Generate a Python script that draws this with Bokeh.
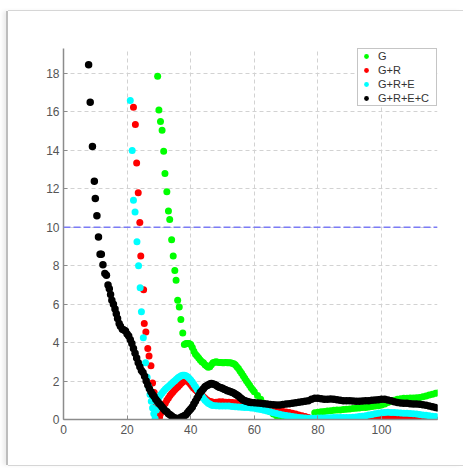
from bokeh.plotting import figure
from bokeh.models import Range1d, FixedTicker, Span, Legend, LegendItem
from bokeh.embed import file_html
from bokeh.resources import INLINE

# ---------------- data ----------------
series_names = ["G", "G+R", "G+R+E", "G+R+E+C"]
series_colors = ["#00ff00", "#ff0000", "#00ffff", "#000000"]
series_sizes = [7, 7, 7, 7.5]
x_ticks = [0, 20, 40, 60, 80, 100, 120]
y_ticks = [0, 2, 4, 6, 8, 10, 12, 14, 16, 18]
threshold = 10

# G
g_head_x = [29.6, 30.0, 30.5, 31.0, 31.5, 31.9, 32.5, 33.0, 33.4, 34.0, 34.5, 35.0, 35.4, 35.9, 36.4, 36.9, 37.5, 38.0]
g_head_y = [17.85, 16.1, 15.5, 15.05, 13.95, 12.8, 11.85, 10.85, 10.4, 9.35, 8.5, 7.75, 7.25, 6.2, 5.85, 5.2, 4.5, 3.9]
g_mid_y = [3.95, 3.95, 3.95, 3.9, 3.75, 3.55, 3.4, 3.3, 3.2, 3.1,
           3.0, 2.95, 2.85, 2.78, 2.72, 2.75, 2.85, 2.95, 2.98, 3.0,
           2.98, 2.97, 2.97, 2.95, 2.95, 2.96, 2.95, 2.95, 2.95, 2.93,
           2.9, 2.85, 2.75, 2.65, 2.52, 2.4, 2.27, 2.15, 2.02, 1.9,
           1.78, 1.65, 1.55]          # x = 38.5 .. 59.5 step 0.5
g_tail1_y = [1.45, 1.25, 1.05, 0.85, 0.6, 0.4, 0.28, 0.2, 0.14, 0.1,
             0.07, 0.05, 0.03, 0.01, 0.0, -0.03, -0.05, -0.06, -0.06]   # x = 60 .. 78
g_tail2_y = [0.35, 0.38, 0.4, 0.42, 0.44, 0.46, 0.48, 0.5, 0.5, 0.52,
             0.53, 0.55, 0.57, 0.58, 0.6, 0.62, 0.63, 0.65, 0.67, 0.7,
             0.72, 0.75, 0.8, 0.88, 0.95, 1.0, 1.05, 1.08, 1.1, 1.1,
             1.12, 1.12, 1.13, 1.15, 1.18, 1.22, 1.27, 1.32, 1.36, 1.4]  # x = 79 .. 118

# G+R
r_head_x = [22.0, 22.6, 23.0, 23.5, 24.0, 24.3, 25.2, 25.4, 25.9, 26.5, 26.9, 27.5, 28.0, 28.5, 29.1, 29.7, 30.2]
r_head_y = [16.25, 15.35, 13.35, 11.8, 10.25, 8.5, 6.75, 5.0, 4.55, 3.7, 3.3, 2.8, 1.9, 1.4, 0.75, 0.2, 0.12]
r_mid_y = [0.3, 0.5, 0.7, 0.85, 1.0, 1.12, 1.25, 1.35, 1.45, 1.55,
           1.62, 1.7, 1.8, 1.88, 1.95, 2.02, 2.05, 2.0, 1.92, 1.82,
           1.72, 1.63, 1.55, 1.47, 1.4, 1.33, 1.25, 1.18, 1.1, 1.03,
           0.98, 0.94, 0.92, 0.9]     # x = 30.5 .. 47.0 step 0.5
r_tail_y = [0.9, 0.92, 0.92, 0.9, 0.9, 0.88, 0.87, 0.86, 0.85, 0.83,
            0.8, 0.78, 0.75, 0.72, 0.68, 0.64, 0.6, 0.56, 0.52, 0.48,
            0.45, 0.42, 0.39, 0.36, 0.32, 0.28, 0.24, 0.2, 0.15, 0.1,
            0.05, 0.0, -0.02, -0.03, -0.03, -0.03, -0.03, -0.03, -0.02, -0.02,
            -0.02, -0.02, -0.02, -0.01, 0.0, 0.0, 0.01, 0.02, 0.04, 0.06,
            0.08, 0.1, 0.12, 0.13, 0.12, 0.1, 0.08, 0.07, 0.06, 0.05,
            0.05, 0.05, 0.04, 0.04, 0.03, 0.03, 0.02, 0.01, 0.0, -0.02, -0.03]  # x = 48 .. 118

# G+R+E
c_head_x = [21.0, 21.6, 22.0, 22.5, 23.1, 23.6, 24.1, 24.5, 25.1, 25.8, 26.3, 26.8, 27.2, 27.6, 28.0, 28.4, 28.8, 29.2]
c_head_y = [16.6, 14.0, 11.4, 10.8, 9.25, 8.0, 6.85, 5.6, 4.25, 2.95, 2.2, 1.7, 1.3, 0.95, 0.6, 0.3, 0.05, 0.5]
c_mid_y = [0.9, 1.15, 1.28, 1.38, 1.48, 1.57, 1.65, 1.72, 1.8, 1.87,
           1.95, 2.02, 2.1, 2.17, 2.23, 2.28, 2.3, 2.3, 2.27, 2.22,
           2.15, 2.05, 1.95, 1.82, 1.7, 1.57, 1.45, 1.33, 1.22, 1.1,
           1.0, 0.92, 0.85, 0.8, 0.76, 0.73]   # x = 29.5 .. 47.0 step 0.5
c_tail_y = [0.72, 0.7, 0.7, 0.7, 0.7, 0.68, 0.66, 0.65, 0.64, 0.63,
            0.62, 0.6, 0.58, 0.55, 0.52, 0.48, 0.44, 0.4, 0.35, 0.31,
            0.27, 0.24, 0.21, 0.18, 0.15, 0.13, 0.11, 0.09, 0.08, 0.07,
            0.07, 0.07, 0.08, 0.08, 0.08, 0.09, 0.09, 0.1, 0.1, 0.1,
            0.1, 0.1, 0.11, 0.12, 0.13, 0.15, 0.17, 0.2, 0.23, 0.26,
            0.3, 0.33, 0.35, 0.37, 0.38, 0.37, 0.36, 0.35, 0.34, 0.33,
            0.32, 0.31, 0.3, 0.28, 0.26, 0.24, 0.22, 0.2, 0.17, 0.15, 0.13]  # x = 48 .. 118

# G+R+E+C
b_head_x = [7.9, 8.4, 9.1, 9.7, 10.0, 10.5, 11.0, 11.5, 11.9, 12.4, 13.0, 13.5, 14.0, 14.4, 14.8, 15.2, 15.7, 16.2, 16.6, 17.0, 17.5, 17.9]
b_head_y = [18.45, 16.5, 14.2, 12.4, 11.5, 10.6, 9.5, 8.6, 8.6, 8.05, 7.6, 7.5, 7.0, 6.8, 6.5, 6.2, 6.0, 5.75, 5.5, 5.25, 5.0, 4.85]
b_mid_y = [4.7, 4.65, 4.6, 4.45, 4.35, 4.15, 3.95, 3.7, 3.45, 3.2,
           2.95, 2.75, 2.55, 2.45, 2.25, 2.0, 1.8, 1.6, 1.45, 1.3,
           1.2, 1.05, 0.95, 0.85, 0.75, 0.65, 0.55, 0.45, 0.4, 0.3,
           0.25, 0.18, 0.12, 0.08, 0.05, 0.05, 0.07, 0.12, 0.15, 0.2,
           0.25, 0.35, 0.45, 0.55, 0.65, 0.8, 0.95, 1.1, 1.25, 1.4,
           1.5, 1.6, 1.7, 1.75, 1.8, 1.85, 1.87, 1.85, 1.82, 1.78,
           1.72, 1.68, 1.65, 1.62, 1.58, 1.55, 1.5, 1.48, 1.45, 1.42,
           1.38, 1.33, 1.28, 1.22, 1.15, 1.08, 1.02, 0.98, 0.95, 0.92,
           0.9, 0.88]                 # x = 18.5 .. 59.0 step 0.5
b_tail_y = [0.87, 0.86, 0.84, 0.82, 0.8, 0.78, 0.77, 0.76, 0.76, 0.78,
            0.8, 0.82, 0.85, 0.87, 0.9, 0.92, 0.95, 0.98, 1.05, 1.1,
            1.1, 1.08, 1.05, 1.05, 1.06, 1.05, 1.03, 1.0, 0.98, 0.97,
            0.97, 0.96, 0.95, 0.95, 0.96, 0.97, 0.98, 1.0, 1.02, 1.03,
            1.05, 1.05, 1.02, 0.97, 0.92, 0.88, 0.86, 0.85, 0.84, 0.82,
            0.8, 0.8, 0.79, 0.77, 0.74, 0.7, 0.66, 0.62, 0.58]  # x = 60 .. 118


def build(head_x, head_y, segments):
    xs, ys = list(head_x), list(head_y)
    for x0, step, vals in segments:
        xs += [x0 + step * i for i in range(len(vals))]
        ys += list(vals)
    return xs, ys


data = [
    build(g_head_x, g_head_y, [(38.5, 0.5, g_mid_y), (60, 1, g_tail1_y), (79, 1, g_tail2_y)]),
    build(r_head_x, r_head_y, [(30.5, 0.5, r_mid_y), (48, 1, r_tail_y)]),
    build(c_head_x, c_head_y, [(29.5, 0.5, c_mid_y), (48, 1, c_tail_y)]),
    build(b_head_x, b_head_y, [(18.5, 0.5, b_mid_y), (60, 1, b_tail_y)]),
]

# ---------------- figure ----------------
p = figure(width=455, height=454, output_backend="svg", toolbar_location=None,
           x_range=Range1d(0, 117.6), y_range=Range1d(0, 19.3),
           min_border_left=55, min_border_right=26, min_border_top=37, min_border_bottom=46,
           background_fill_color="white", border_fill_color="white",
           outline_line_color=None)
p.margin = (11, 0, 3, 8)
p.styles = {"box-shadow": "-2px 0 0 0 #bdbdbd, 0 -1px 0 0 #d6d6d6, 0 1px 0 0 #d6d6d6, -5px 0 4px 0 #ececec"}

p.xaxis.ticker = FixedTicker(ticks=x_ticks)
p.yaxis.ticker = FixedTicker(ticks=y_ticks)
for ax in (p.xaxis, p.yaxis):
    ax.axis_line_color = "#8c8c8c"
    ax.axis_line_width = 1.5
    ax.major_tick_in = 4
    ax.major_tick_out = 0
    ax.major_tick_line_color = "#8c8c8c"
    ax.minor_tick_line_color = None
    ax.major_label_text_font = "Liberation Sans"
    ax.major_label_text_font_size = "12px"
    ax.major_label_text_color = "#555555"
p.xaxis.major_label_standoff = 5
p.yaxis.major_label_standoff = 4

p.grid.grid_line_color = "#d2d2d2"
p.grid.grid_line_dash = "4 3"
p.grid.grid_line_width = 1

renderers = []
for (xs, ys), name, col, sz in zip(data, series_names, series_colors, series_sizes):
    r = p.scatter(xs, ys, size=sz, fill_color=col, line_color=None)
    renderers.append(r)

p.add_layout(Span(location=threshold, dimension="width", line_color="#7b7bf5",
                  line_dash="7 3", line_width=1.5))

legend = Legend(items=[LegendItem(label=n, renderers=[r]) for n, r in zip(series_names, renderers)],
                location="top_right", padding=1, spacing=2, margin=0,
                label_height=12, glyph_height=12, glyph_width=14, label_standoff=5,
                label_width=57, border_line_color="#8c8c8c", border_line_width=1,
                background_fill_color="white", background_fill_alpha=1,
                label_text_font="Liberation Sans", label_text_font_size="11px",
                label_text_color="#333333")
p.add_layout(legend)

open("out.html", "w").write(file_html(p, INLINE))
